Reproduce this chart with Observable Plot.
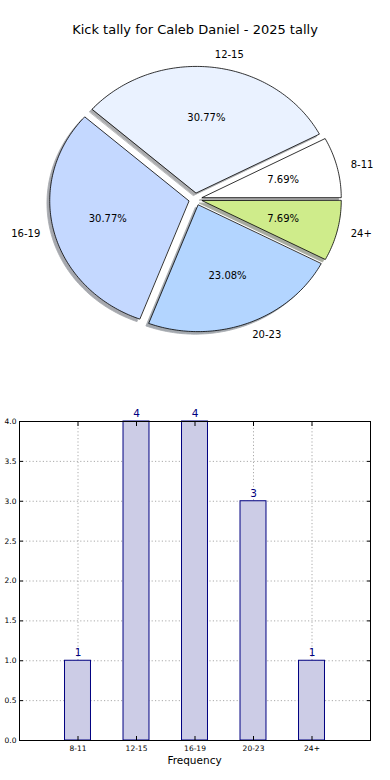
<!DOCTYPE html>
<html>
<head>
<meta charset="utf-8">
<script src="https://cdn.jsdelivr.net/npm/d3@7"></script>
<script src="https://cdn.jsdelivr.net/npm/@observablehq/plot@0.6"></script>
<style>
  html, body { margin: 0; padding: 0; background: #fff; }
  body { width: 390px; height: 780px; position: relative; overflow: hidden; font-family: "DejaVu Sans", sans-serif; }
  #title { position: absolute; left: 0; top: 21px; width: 390px; text-align: center; font-size: 13px; line-height: 18px; color: #000; }
  #pie { position: absolute; left: 0; top: 40px; }
  #bars { position: absolute; left: 0; top: 400px; }
  #xlabel { position: absolute; left: 19px; width: 351px; top: 753px; text-align: center; font-size: 10.5px; line-height: 14px; color: #000; }
</style>
</head>
<body>
<div id="title">Kick tally for Caleb Daniel - 2025 tally</div>
<div id="pie"></div>
<div id="bars"></div>
<div id="xlabel">Frequency</div>
<script>
const categories = ["8-11", "12-15", "16-19", "20-23", "24+"];
const counts = [1, 4, 4, 3, 1];
const sliceColors = ["#ffffff", "#eaf2ff", "#c4d8ff", "#b3d5ff", "#cfec8b"];
const yTicks = [0, 0.5, 1, 1.5, 2, 2.5, 3, 3.5, 4];
const explode = 0.05;

const total = d3.sum(counts);
let acc = 0;
const slices = categories.map((label, i) => {
  const frac = counts[i] / total;
  const a0 = acc * 360, a1 = (acc + frac) * 360;
  acc += frac;
  const mid = (a0 + a1) / 2 * Math.PI / 180;
  const ex = explode * Math.cos(mid), ey = explode * Math.sin(mid);
  const pts = [{x: ex, y: ey}];
  const n = Math.max(2, Math.ceil(a1 - a0));
  for (let k = 0; k <= n; k++) {
    const a = (a0 + (a1 - a0) * k / n) * Math.PI / 180;
    pts.push({x: ex + Math.cos(a), y: ey + Math.sin(a)});
  }
  const c = d3.rgb(sliceColors[i]);
  return {
    label, count: counts[i], pct: (frac * 100).toFixed(2) + "%",
    color: sliceColors[i],
    shadow: d3.rgb(c.r * 0.3, c.g * 0.3, c.b * 0.3).formatHex(),
    pts, mid, ex, ey,
    lx: ex + 1.1 * Math.cos(mid), ly: ey + 1.1 * Math.sin(mid),
    px: ex + 0.6 * Math.cos(mid), py: ey + 0.6 * Math.sin(mid)
  };
});

const pieMarks = [];
slices.forEach(s => {
  pieMarks.push(Plot.line(s.pts, {
    x: d => d.x - 0.02, y: d => d.y - 0.02, curve: "linear-closed",
    fill: s.shadow, stroke: s.shadow, strokeWidth: 0.8, opacity: 0.45
  }));
});
slices.forEach(s => {
  pieMarks.push(Plot.line(s.pts, {
    x: "x", y: "y", curve: "linear-closed",
    fill: s.color, stroke: "#000", strokeWidth: 0.8
  }));
});
pieMarks.push(Plot.text(slices.filter(s => Math.cos(s.mid) >= 0), {
  x: "lx", y: "ly", text: "label", textAnchor: "start", fontSize: 10, fill: "#000"
}));
pieMarks.push(Plot.text(slices.filter(s => Math.cos(s.mid) < 0), {
  x: "lx", y: "ly", text: "label", textAnchor: "end", fontSize: 10, fill: "#000"
}));
pieMarks.push(Plot.text(slices, {
  x: "px", y: "py", text: "pct", fontSize: 10, fill: "#000"
}));

const rx = 139, ry = 126.5, cx = 195, cy = 158.7;
const pie = Plot.plot({
  width: 390, height: 360, margin: 0,
  style: {fontFamily: "DejaVu Sans", background: "transparent", overflow: "visible"},
  x: {domain: [-cx / rx, (390 - cx) / rx], axis: null},
  y: {domain: [-(360 - cy) / ry, cy / ry], axis: null},
  marks: pieMarks
});
document.getElementById("pie").appendChild(pie);

const barData = categories.map((c, i) => ({cat: c, n: counts[i]}));
const bars = Plot.plot({
  width: 390, height: 380,
  marginLeft: 19, marginRight: 20, marginTop: 21, marginBottom: 40,
  style: {fontFamily: "DejaVu Sans", background: "transparent", overflow: "visible", fontSize: "7.5px"},
  x: {type: "band", domain: categories, paddingInner: 0.556, paddingOuter: 0.778, round: false, label: null},
  y: {domain: [0, 4], ticks: yTicks, label: null},
  marks: [
    Plot.gridY(yTicks, {stroke: "#aaa", strokeOpacity: 1, strokeDasharray: "1.2,2.2", strokeWidth: 1}),
    Plot.gridX(categories, {stroke: "#aaa", strokeOpacity: 1, strokeDasharray: "1.2,2.2", strokeWidth: 1}),
    Plot.barY(barData, {x: "cat", y: "n", fill: "#ccccE6", stroke: "navy", strokeWidth: 1}),
    Plot.text(barData, {x: "cat", y: "n", text: d => String(d.n), dy: -8, fill: "navy", fontSize: 10.5}),
    Plot.axisY(yTicks, {anchor: "left", tickSize: -4, tickPadding: 7, tickFormat: d3.format(".1f"), label: null, fontSize: 7.5, fill: "#000"}),
    Plot.axisY(yTicks, {anchor: "right", tickSize: -4, tickFormat: () => "", label: null}),
    Plot.axisX(categories, {anchor: "bottom", tickSize: -4, tickPadding: 9, label: null, fontSize: 7.5, fill: "#000"}),
    Plot.axisX(categories, {anchor: "top", tickSize: -4, tickFormat: () => "", label: null}),
    Plot.frame({stroke: "#000", strokeWidth: 1})
  ]
});
document.getElementById("bars").appendChild(bars);
</script>
</body>
</html>
